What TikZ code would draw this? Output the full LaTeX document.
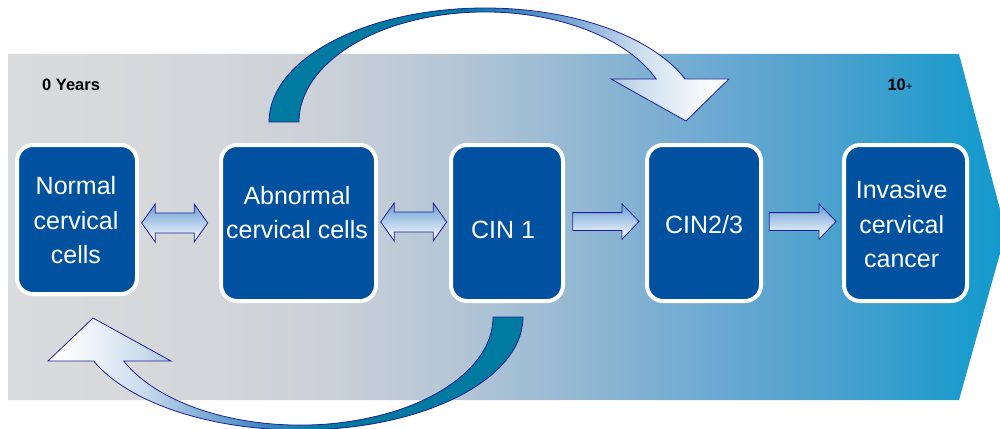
\documentclass[tikz,border=0pt]{standalone}
\usepackage{fontspec}
\setmainfont{Liberation Sans}
\usetikzlibrary{calc}

% palette
\definecolor{stageblue}{RGB}{0,81,160}
\definecolor{bendteal}{RGB}{0,122,160}
\definecolor{edgenavy}{RGB}{30,30,150}
\definecolor{arrtop}{RGB}{105,158,214}
\definecolor{bandA}{RGB}{218,219,221}
\definecolor{bandB}{RGB}{216,217,219}
\definecolor{bandC}{RGB}{205,210,216}
\definecolor{bandD}{RGB}{180,198,214}
\definecolor{bandE}{RGB}{150,185,210}
\definecolor{bandF}{RGB}{110,170,210}
\definecolor{bandG}{RGB}{70,160,205}
\definecolor{bandH}{RGB}{28,155,205}
\definecolor{bandI}{RGB}{20,153,205}
\definecolor{bendB}{RGB}{60,135,190}
\definecolor{bendC}{RGB}{130,175,215}
\definecolor{bendD}{RGB}{205,222,238}
\definecolor{bendE}{RGB}{245,248,252}

% time band running from grey to blue
\pgfdeclarehorizontalshading{timeband}{100bp}{%
  color(0bp)=(bandA); color(25bp)=(bandA); color(30bp)=(bandB);
  color(40bp)=(bandC); color(47.5bp)=(bandD); color(53bp)=(bandE);
  color(60bp)=(bandF); color(67bp)=(bandG); color(73bp)=(bandH);
  color(75bp)=(bandI); color(100bp)=(bandI)}

% bent arrows fading from teal to white
\pgfdeclarehorizontalshading{bendshade}{100bp}{%
  color(0bp)=(bendteal); color(25bp)=(bendteal); color(46bp)=(bendteal);
  color(52.3bp)=(bendB); color(58.8bp)=(bendC); color(65.3bp)=(bendD);
  color(71.8bp)=(bendE); color(75bp)=(white); color(100bp)=(white)}

% two-headed block arrow between two points (tips)
\newcommand\twowayarrow[2]{%
  \path[blockarr] let \p1=#1, \p2=#2 in
    (\x1,\y1) -- (\x1+13.5pt,\y1+19pt) -- (\x1+13.5pt,\y1+10pt)
    -- (\x2-13.5pt,\y2+10pt) -- (\x2-13.5pt,\y2+19pt) -- (\x2,\y2)
    -- (\x2-13.5pt,\y2-19pt) -- (\x2-13.5pt,\y2-10pt)
    -- (\x1+13.5pt,\y1-10pt) -- (\x1+13.5pt,\y1-19pt) -- cycle;}

% one-headed block arrow from tail to tip
\newcommand\onewayarrow[2]{%
  \path[blockarr] let \p1=#1, \p2=#2 in
    (\x1,\y1+8.9pt) -- (\x2-17pt,\y2+8.9pt) -- (\x2-17pt,\y2+17.7pt)
    -- (\x2,\y2) -- (\x2-17pt,\y2-17.7pt) -- (\x2-17pt,\y2-8.9pt)
    -- (\x1,\y1-8.9pt) -- cycle;}

\begin{document}
\begin{tikzpicture}[x=1pt,y=-1pt,
  stage/.style={draw=white, line width=4pt, fill=stageblue,
    rounded corners=16pt, outer sep=0pt, inner sep=0pt},
  stagetext/.style={text=white, align=center, inner sep=0pt,
    font=\fontsize{25}{34.5}\selectfont},
  yearlabel/.style={inner sep=0pt, anchor=base west,
    font=\bfseries\fontsize{16.5}{20}\selectfont},
  blockarr/.style={draw=edgenavy, line width=0.8pt,
    top color=arrtop, bottom color=white},
  bendarr/.style={draw=edgenavy, line width=0.8pt, shade, shading=bendshade}]

\useasboundingbox (0,0) rectangle (1000,428);
\clip (0,0) rectangle (1000,428);

% chevron-shaped time band
\path[shade, shading=timeband]
  (8,54) -- (959,54) -- (1006,232) -- (959,400) -- (8,400) -- cycle;

% time labels
\node[yearlabel] (start) at (42,90.7) {0 Years};
\node[yearlabel] (finish) at (887.3,90.7) {10{\mdseries\fontsize{11.5}{14}\selectfont +}};

% stages
\node[stage, minimum width=120, minimum height=149] (b1) at (77,219.5) {};
\node[stage, minimum width=155, minimum height=156] (b2) at (298.5,223) {};
\node[stage, minimum width=112, minimum height=156] (b3) at (507,223) {};
\node[stage, minimum width=114, minimum height=156] (b4) at (704,223) {};
\node[stage, minimum width=123, minimum height=156] (b5) at (905.5,223) {};

\node[stagetext] (t1) at (76,220.4) {Normal\\cervical\\cells};
\node[stagetext] (t2) at (297,212.4) {Abnormal\\cervical cells};
\node[stagetext] (t3) at (503,230) {CIN 1};
\node[stagetext] (t4) at (704,224.9) {CIN2/3};
\node[stagetext] (t5) at (901.7,224.4) {Invasive\\cervical\\cancer};

% transitions between stages
\twowayarrow{($(b1.east |- b2.west)+(4.7pt,0)$)}{($(b2.west)+(-13.3pt,0)$)}
\twowayarrow{($(b2.east)+(4.7pt,1pt)$)}{($(b3.west)+(-4.3pt,1pt)$)}
\onewayarrow{($(b3.east)+(9.7pt,1.5pt)$)}{($(b4.west)+(-8pt,1.5pt)$)}
\onewayarrow{($(b4.east)+(8.3pt,1.5pt)$)}{($(b5.west)+(-8pt,1.5pt)$)}

% progression arc: abnormal cells -> CIN2/3
\path[bendarr] ([shift={(-29.5pt,23pt)}]b2.north)
  arc[start angle=180, end angle=22.2, x radius=216pt, y radius=114pt]
  -- ++(44,0) -- (686,121) -- (611,79) -- (656.2,79)
  arc[start angle=23, end angle=180, x radius=186pt, y radius=110pt]
  -- cycle;

% regression arc: CIN 1 -> normal cells
\path[bendarr, shading angle=180] ([shift={(16pt,-16pt)}]b3.south)
  arc[start angle=0, end angle=-157.1, x radius=223.5pt, y radius=113pt]
  -- (48,361) -- (93,318) -- (171,361) -- (123.7,361)
  arc[start angle=-156, end angle=0, x radius=193pt, y radius=108pt]
  -- cycle;
\end{tikzpicture}
\end{document}
